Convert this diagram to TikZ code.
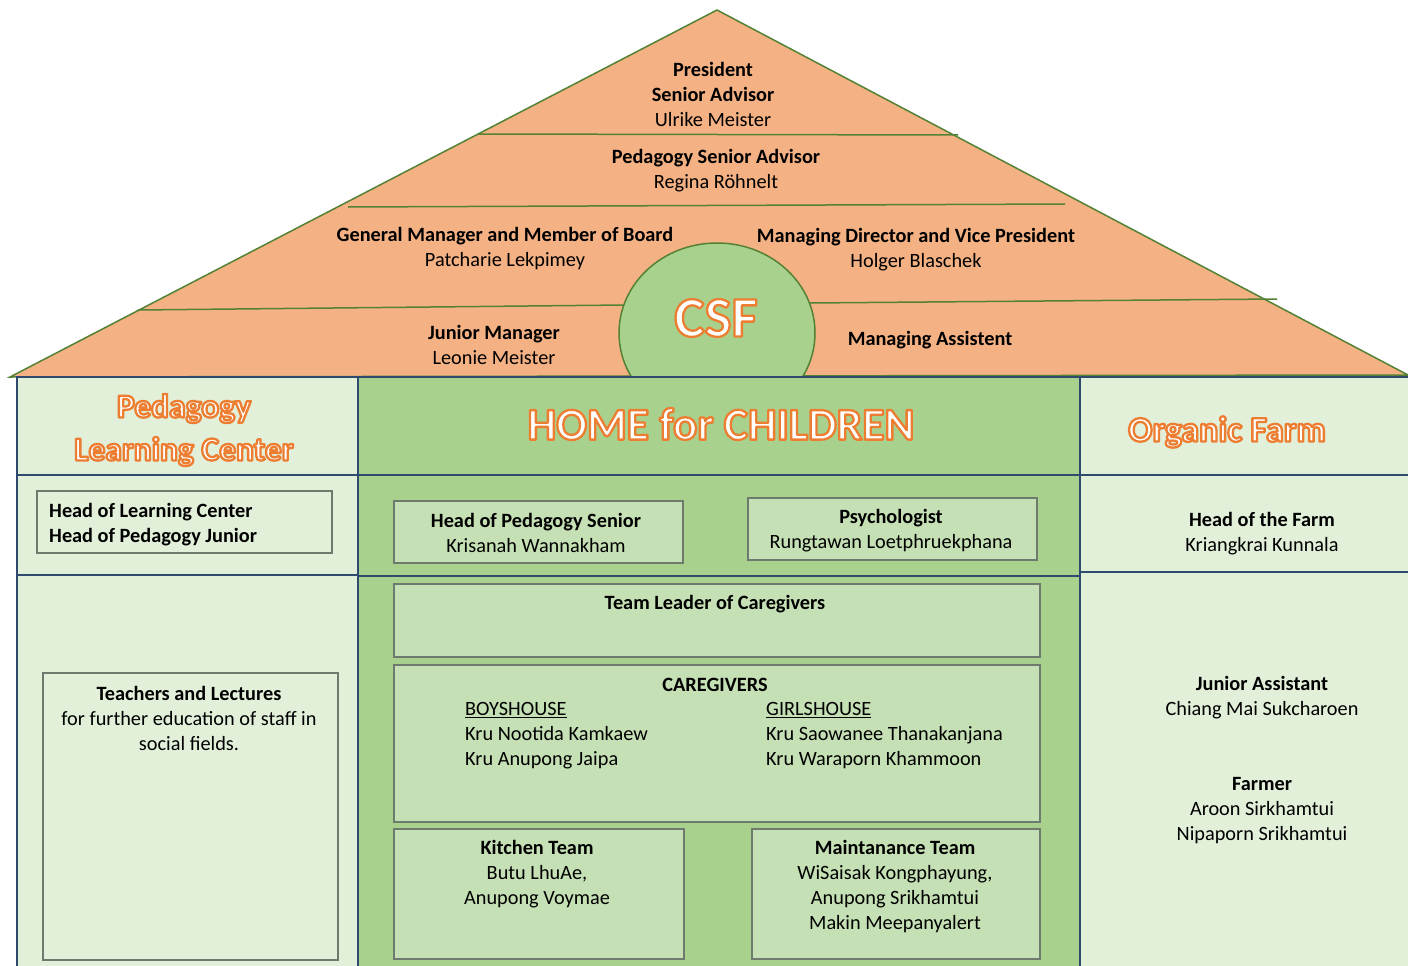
\documentclass[tikz,border=0pt]{standalone}
\usepackage{fontspec}
\setmainfont{Carlito}
\usetikzlibrary{shapes.geometric}
\definecolor{roofc}{HTML}{F4B183}
\definecolor{roofline}{HTML}{548235}
\definecolor{lightg}{HTML}{E2F0D9}
\definecolor{midg}{HTML}{A9D18E}
\definecolor{boxg}{HTML}{C5E0B4}
\definecolor{navy}{HTML}{2E4A6E}
\definecolor{boxline}{HTML}{6E7A6E}
\newcommand\outl[1]{{\color{white}\special{pdf:literal direct q 0.929 0.490 0.192 RG 2.3 w 1 j 2 Tr}#1\special{pdf:literal direct Q}}}
\begin{document}
\begin{tikzpicture}[x=1pt,y=-1pt,
  txt/.style={font=\fontsize{20.3}{25}\selectfont, align=center, inner sep=0pt},
  colline/.style={draw=navy, line width=1.8pt},
  rline/.style={draw=roofline, line width=1.5pt},
  ibox/.style={draw=boxline, line width=1.3pt}]
\useasboundingbox (0,0) rectangle (1408,966);
\fill[white] (0,0) rectangle (1408,966);
% roof
\coordinate (apex) at (717,10);
\coordinate (rl) at (10,377);
\coordinate (rr) at (1408,375);
\filldraw[fill=roofc, rline] (apex) -- (rr) -- (rl) -- cycle;
\draw[rline] (478,134) -- (958,135);
\draw[rline] (348,207) -- (1065,204);
\draw[rline] (138,310) -- (625,305);
\draw[rline] (810,303) -- (1277,299);
\node[ellipse, draw=roofline, line width=1.5pt, fill=midg, minimum width=196pt, minimum height=180pt, inner sep=0pt] (csf) at (717,333) {};
% building
\draw[colline, fill=lightg] (17,377) rectangle (358,975);
\draw[colline, fill=midg] (358,377) rectangle (1080,975);
\draw[colline, fill=lightg] (1080,377) rectangle (1415,975);
\draw[colline] (17,475) -- (358,475);
\draw[colline] (17,575) -- (358,575);
\draw[colline] (358,475) -- (1080,475);
\draw[colline] (358,576) -- (1080,576);
\draw[colline] (1080,475) -- (1415,475);
\draw[colline] (1080,572) -- (1415,572);
% inner boxes
\draw[ibox, fill=lightg] (37,491) rectangle (332,553);
\draw[ibox, fill=lightg] (43,673) rectangle (338,960);
\draw[ibox, fill=boxg] (394,501) rectangle (683,563);
\draw[ibox, fill=boxg] (748,498) rectangle (1037,560);
\draw[ibox, fill=boxg] (394,584) rectangle (1040,657);
\draw[ibox, fill=boxg] (394,665) rectangle (1040,822);
\draw[ibox, fill=boxg] (394,829) rectangle (684,959);
\draw[ibox, fill=boxg] (752,829) rectangle (1040,959);
% roof texts
\node[txt] (pres) at (713,94) {\textbf{President}\\\textbf{Senior Advisor}\\Ulrike Meister};
\node[txt] (psa) at (716,171) {\textbf{Pedagogy Senior Advisor}\\Regina Röhnelt};
\node[txt] (gm) at (505,249) {\textbf{General Manager and Member of Board}\\Patcharie Lekpimey};
\node[txt] (md) at (916,250) {\textbf{Managing Director and Vice President}\\Holger Blaschek};
\node[txt] (jm) at (494,345) {\textbf{Junior Manager}\\Leonie Meister};
\node[txt] (ma) at (930,340) {\textbf{Managing Assistent}};
\node[inner sep=0pt, font=\fontsize{57}{60}\selectfont\bfseries] (csftext) at (716,318) {\outl{CSF}};
% column headers
\node[inner sep=0pt, align=center, font=\fontsize{33.5}{43}\selectfont\bfseries] (plc) at (184,430) {\outl{Pedagogy}\\\outl{Learning Center}};
\node[inner sep=0pt, font=\fontsize{45.5}{50}\selectfont\bfseries] (home) at (721,424) {\outl{HOME for CHILDREN}};
\node[inner sep=0pt, font=\fontsize{36}{40}\selectfont\bfseries] (of) at (1227,432) {\outl{Organic Farm}};
% left column
\node[txt, align=left, anchor=west] (hlc) at (49,525) {\textbf{Head of Learning Center}\\\textbf{Head of Pedagogy Junior}};
\node[txt] (tl) at (189,718) {\textbf{Teachers and Lectures}\\for further education of staff in\\social fields.};
% middle column
\node[txt] (hps) at (536,533) {\textbf{Head of Pedagogy Senior}\\Krisanah Wannakham};
\node[txt] (psy) at (891,531) {\textbf{Psychologist}\\Rungtawan Loetphruekphana};
\node[txt] (tlc) at (715,604) {\textbf{Team Leader of Caregivers}};
\node[txt] (cg) at (715,685) {\textbf{CAREGIVERS}};
\node[txt, align=left, anchor=west] (boys) at (465,736) {\underline{BOYSHOUSE}\\Kru Nootida Kamkaew\\Kru Anupong Jaipa};
\node[txt, align=left, anchor=west] (girls) at (766,736) {\underline{GIRLSHOUSE}\\Kru Saowanee Thanakanjana\\Kru Waraporn Khammoon};
\node[txt] (kit) at (537,874) {\textbf{Kitchen Team}\\Butu LhuAe,\\Anupong Voymae};
\node[txt] (mnt) at (895,887) {\textbf{Maintanance Team}\\WiSaisak Kongphayung,\\Anupong Srikhamtui\\Makin Meepanyalert};
% right column
\node[txt] (hf) at (1262,534) {\textbf{Head of the Farm}\\Kriangkrai Kunnala};
\node[txt] (ja) at (1262,698) {\textbf{Junior Assistant}\\Chiang Mai Sukcharoen};
\node[txt] (fa) at (1262,811) {\textbf{Farmer}\\Aroon Sirkhamtui\\Nipaporn Srikhamtui};
\end{tikzpicture}
\end{document}
